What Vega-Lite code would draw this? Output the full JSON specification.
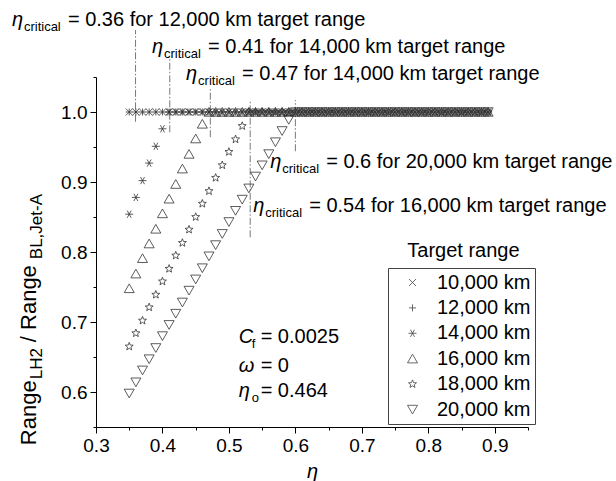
{
"$schema": "https://vega.github.io/schema/vega-lite/v6.json",
"width": 432, "height": 350,
"autosize": "none",
"padding": {"left": 96, "top": 77, "right": 88, "bottom": 54},
"background": "white",
"config": {"view": {"stroke": null}, "font": "Liberation Sans", "text": {"font": "Liberation Sans", "color": "black"}},
"datasets": {
"pts": [
{"s":"10,000 km","e":0.35,"r":1},{"s":"10,000 km","e":0.36,"r":1},{"s":"10,000 km","e":0.37,"r":1},{"s":"10,000 km","e":0.38,"r":1},{"s":"10,000 km","e":0.39,"r":1},{"s":"10,000 km","e":0.40,"r":1},{"s":"10,000 km","e":0.41,"r":1},{"s":"10,000 km","e":0.42,"r":1},{"s":"10,000 km","e":0.43,"r":1},{"s":"10,000 km","e":0.44,"r":1},{"s":"10,000 km","e":0.45,"r":1},{"s":"10,000 km","e":0.46,"r":1},{"s":"10,000 km","e":0.47,"r":1},{"s":"10,000 km","e":0.48,"r":1},{"s":"10,000 km","e":0.49,"r":1},{"s":"10,000 km","e":0.50,"r":1},{"s":"10,000 km","e":0.51,"r":1},{"s":"10,000 km","e":0.52,"r":1},{"s":"10,000 km","e":0.53,"r":1},{"s":"10,000 km","e":0.54,"r":1},{"s":"10,000 km","e":0.55,"r":1},{"s":"10,000 km","e":0.56,"r":1},{"s":"10,000 km","e":0.57,"r":1},{"s":"10,000 km","e":0.58,"r":1},{"s":"10,000 km","e":0.59,"r":1},{"s":"10,000 km","e":0.60,"r":1},{"s":"10,000 km","e":0.61,"r":1},{"s":"10,000 km","e":0.62,"r":1},{"s":"10,000 km","e":0.63,"r":1},{"s":"10,000 km","e":0.64,"r":1},{"s":"10,000 km","e":0.65,"r":1},{"s":"10,000 km","e":0.66,"r":1},{"s":"10,000 km","e":0.67,"r":1},{"s":"10,000 km","e":0.68,"r":1},{"s":"10,000 km","e":0.69,"r":1},{"s":"10,000 km","e":0.70,"r":1},{"s":"10,000 km","e":0.71,"r":1},{"s":"10,000 km","e":0.72,"r":1},{"s":"10,000 km","e":0.73,"r":1},{"s":"10,000 km","e":0.74,"r":1},{"s":"10,000 km","e":0.75,"r":1},{"s":"10,000 km","e":0.76,"r":1},{"s":"10,000 km","e":0.77,"r":1},{"s":"10,000 km","e":0.78,"r":1},{"s":"10,000 km","e":0.79,"r":1},{"s":"10,000 km","e":0.80,"r":1},{"s":"10,000 km","e":0.81,"r":1},{"s":"10,000 km","e":0.82,"r":1},{"s":"10,000 km","e":0.83,"r":1},{"s":"10,000 km","e":0.84,"r":1},{"s":"10,000 km","e":0.85,"r":1},{"s":"10,000 km","e":0.86,"r":1},{"s":"10,000 km","e":0.87,"r":1},{"s":"10,000 km","e":0.88,"r":1},{"s":"10,000 km","e":0.89,"r":1},
{"s":"12,000 km","e":0.35,"r":1},{"s":"12,000 km","e":0.36,"r":1},{"s":"12,000 km","e":0.37,"r":1},{"s":"12,000 km","e":0.38,"r":1},{"s":"12,000 km","e":0.39,"r":1},{"s":"12,000 km","e":0.40,"r":1},{"s":"12,000 km","e":0.41,"r":1},{"s":"12,000 km","e":0.42,"r":1},{"s":"12,000 km","e":0.43,"r":1},{"s":"12,000 km","e":0.44,"r":1},{"s":"12,000 km","e":0.45,"r":1},{"s":"12,000 km","e":0.46,"r":1},{"s":"12,000 km","e":0.47,"r":1},{"s":"12,000 km","e":0.48,"r":1},{"s":"12,000 km","e":0.49,"r":1},{"s":"12,000 km","e":0.50,"r":1},{"s":"12,000 km","e":0.51,"r":1},{"s":"12,000 km","e":0.52,"r":1},{"s":"12,000 km","e":0.53,"r":1},{"s":"12,000 km","e":0.54,"r":1},{"s":"12,000 km","e":0.55,"r":1},{"s":"12,000 km","e":0.56,"r":1},{"s":"12,000 km","e":0.57,"r":1},{"s":"12,000 km","e":0.58,"r":1},{"s":"12,000 km","e":0.59,"r":1},{"s":"12,000 km","e":0.60,"r":1},{"s":"12,000 km","e":0.61,"r":1},{"s":"12,000 km","e":0.62,"r":1},{"s":"12,000 km","e":0.63,"r":1},{"s":"12,000 km","e":0.64,"r":1},{"s":"12,000 km","e":0.65,"r":1},{"s":"12,000 km","e":0.66,"r":1},{"s":"12,000 km","e":0.67,"r":1},{"s":"12,000 km","e":0.68,"r":1},{"s":"12,000 km","e":0.69,"r":1},{"s":"12,000 km","e":0.70,"r":1},{"s":"12,000 km","e":0.71,"r":1},{"s":"12,000 km","e":0.72,"r":1},{"s":"12,000 km","e":0.73,"r":1},{"s":"12,000 km","e":0.74,"r":1},{"s":"12,000 km","e":0.75,"r":1},{"s":"12,000 km","e":0.76,"r":1},{"s":"12,000 km","e":0.77,"r":1},{"s":"12,000 km","e":0.78,"r":1},{"s":"12,000 km","e":0.79,"r":1},{"s":"12,000 km","e":0.80,"r":1},{"s":"12,000 km","e":0.81,"r":1},{"s":"12,000 km","e":0.82,"r":1},{"s":"12,000 km","e":0.83,"r":1},{"s":"12,000 km","e":0.84,"r":1},{"s":"12,000 km","e":0.85,"r":1},{"s":"12,000 km","e":0.86,"r":1},{"s":"12,000 km","e":0.87,"r":1},{"s":"12,000 km","e":0.88,"r":1},{"s":"12,000 km","e":0.89,"r":1},
{"s":"14,000 km","e":0.35,"r":0.854},{"s":"14,000 km","e":0.36,"r":0.878},{"s":"14,000 km","e":0.37,"r":0.902},{"s":"14,000 km","e":0.38,"r":0.927},{"s":"14,000 km","e":0.39,"r":0.951},{"s":"14,000 km","e":0.40,"r":0.976},{"s":"14,000 km","e":0.41,"r":1},{"s":"14,000 km","e":0.42,"r":1},{"s":"14,000 km","e":0.43,"r":1},{"s":"14,000 km","e":0.44,"r":1},{"s":"14,000 km","e":0.45,"r":1},{"s":"14,000 km","e":0.46,"r":1},{"s":"14,000 km","e":0.47,"r":1},{"s":"14,000 km","e":0.48,"r":1},{"s":"14,000 km","e":0.49,"r":1},{"s":"14,000 km","e":0.50,"r":1},{"s":"14,000 km","e":0.51,"r":1},{"s":"14,000 km","e":0.52,"r":1},{"s":"14,000 km","e":0.53,"r":1},{"s":"14,000 km","e":0.54,"r":1},{"s":"14,000 km","e":0.55,"r":1},{"s":"14,000 km","e":0.56,"r":1},{"s":"14,000 km","e":0.57,"r":1},{"s":"14,000 km","e":0.58,"r":1},{"s":"14,000 km","e":0.59,"r":1},{"s":"14,000 km","e":0.60,"r":1},{"s":"14,000 km","e":0.61,"r":1},{"s":"14,000 km","e":0.62,"r":1},{"s":"14,000 km","e":0.63,"r":1},{"s":"14,000 km","e":0.64,"r":1},{"s":"14,000 km","e":0.65,"r":1},{"s":"14,000 km","e":0.66,"r":1},{"s":"14,000 km","e":0.67,"r":1},{"s":"14,000 km","e":0.68,"r":1},{"s":"14,000 km","e":0.69,"r":1},{"s":"14,000 km","e":0.70,"r":1},{"s":"14,000 km","e":0.71,"r":1},{"s":"14,000 km","e":0.72,"r":1},{"s":"14,000 km","e":0.73,"r":1},{"s":"14,000 km","e":0.74,"r":1},{"s":"14,000 km","e":0.75,"r":1},{"s":"14,000 km","e":0.76,"r":1},{"s":"14,000 km","e":0.77,"r":1},{"s":"14,000 km","e":0.78,"r":1},{"s":"14,000 km","e":0.79,"r":1},{"s":"14,000 km","e":0.80,"r":1},{"s":"14,000 km","e":0.81,"r":1},{"s":"14,000 km","e":0.82,"r":1},{"s":"14,000 km","e":0.83,"r":1},{"s":"14,000 km","e":0.84,"r":1},{"s":"14,000 km","e":0.85,"r":1},{"s":"14,000 km","e":0.86,"r":1},{"s":"14,000 km","e":0.87,"r":1},{"s":"14,000 km","e":0.88,"r":1},{"s":"14,000 km","e":0.89,"r":1},
{"s":"16,000 km","e":0.35,"r":0.748},{"s":"16,000 km","e":0.36,"r":0.769},{"s":"16,000 km","e":0.37,"r":0.791},{"s":"16,000 km","e":0.38,"r":0.812},{"s":"16,000 km","e":0.39,"r":0.833},{"s":"16,000 km","e":0.40,"r":0.855},{"s":"16,000 km","e":0.41,"r":0.876},{"s":"16,000 km","e":0.42,"r":0.897},{"s":"16,000 km","e":0.43,"r":0.919},{"s":"16,000 km","e":0.44,"r":0.940},{"s":"16,000 km","e":0.45,"r":0.962},{"s":"16,000 km","e":0.46,"r":0.983},{"s":"16,000 km","e":0.47,"r":1},{"s":"16,000 km","e":0.48,"r":1},{"s":"16,000 km","e":0.49,"r":1},{"s":"16,000 km","e":0.50,"r":1},{"s":"16,000 km","e":0.51,"r":1},{"s":"16,000 km","e":0.52,"r":1},{"s":"16,000 km","e":0.53,"r":1},{"s":"16,000 km","e":0.54,"r":1},{"s":"16,000 km","e":0.55,"r":1},{"s":"16,000 km","e":0.56,"r":1},{"s":"16,000 km","e":0.57,"r":1},{"s":"16,000 km","e":0.58,"r":1},{"s":"16,000 km","e":0.59,"r":1},{"s":"16,000 km","e":0.60,"r":1},{"s":"16,000 km","e":0.61,"r":1},{"s":"16,000 km","e":0.62,"r":1},{"s":"16,000 km","e":0.63,"r":1},{"s":"16,000 km","e":0.64,"r":1},{"s":"16,000 km","e":0.65,"r":1},{"s":"16,000 km","e":0.66,"r":1},{"s":"16,000 km","e":0.67,"r":1},{"s":"16,000 km","e":0.68,"r":1},{"s":"16,000 km","e":0.69,"r":1},{"s":"16,000 km","e":0.70,"r":1},{"s":"16,000 km","e":0.71,"r":1},{"s":"16,000 km","e":0.72,"r":1},{"s":"16,000 km","e":0.73,"r":1},{"s":"16,000 km","e":0.74,"r":1},{"s":"16,000 km","e":0.75,"r":1},{"s":"16,000 km","e":0.76,"r":1},{"s":"16,000 km","e":0.77,"r":1},{"s":"16,000 km","e":0.78,"r":1},{"s":"16,000 km","e":0.79,"r":1},{"s":"16,000 km","e":0.80,"r":1},{"s":"16,000 km","e":0.81,"r":1},{"s":"16,000 km","e":0.82,"r":1},{"s":"16,000 km","e":0.83,"r":1},{"s":"16,000 km","e":0.84,"r":1},{"s":"16,000 km","e":0.85,"r":1},{"s":"16,000 km","e":0.86,"r":1},{"s":"16,000 km","e":0.87,"r":1},{"s":"16,000 km","e":0.88,"r":1},{"s":"16,000 km","e":0.89,"r":1},
{"s":"18,000 km","e":0.35,"r":0.665},{"s":"18,000 km","e":0.36,"r":0.684},{"s":"18,000 km","e":0.37,"r":0.702},{"s":"18,000 km","e":0.38,"r":0.721},{"s":"18,000 km","e":0.39,"r":0.739},{"s":"18,000 km","e":0.40,"r":0.758},{"s":"18,000 km","e":0.41,"r":0.776},{"s":"18,000 km","e":0.42,"r":0.795},{"s":"18,000 km","e":0.43,"r":0.813},{"s":"18,000 km","e":0.44,"r":0.832},{"s":"18,000 km","e":0.45,"r":0.850},{"s":"18,000 km","e":0.46,"r":0.869},{"s":"18,000 km","e":0.47,"r":0.887},{"s":"18,000 km","e":0.48,"r":0.906},{"s":"18,000 km","e":0.49,"r":0.924},{"s":"18,000 km","e":0.50,"r":0.943},{"s":"18,000 km","e":0.51,"r":0.961},{"s":"18,000 km","e":0.52,"r":0.980},{"s":"18,000 km","e":0.53,"r":1},{"s":"18,000 km","e":0.54,"r":1},{"s":"18,000 km","e":0.55,"r":1},{"s":"18,000 km","e":0.56,"r":1},{"s":"18,000 km","e":0.57,"r":1},{"s":"18,000 km","e":0.58,"r":1},{"s":"18,000 km","e":0.59,"r":1},{"s":"18,000 km","e":0.60,"r":1},{"s":"18,000 km","e":0.61,"r":1},{"s":"18,000 km","e":0.62,"r":1},{"s":"18,000 km","e":0.63,"r":1},{"s":"18,000 km","e":0.64,"r":1},{"s":"18,000 km","e":0.65,"r":1},{"s":"18,000 km","e":0.66,"r":1},{"s":"18,000 km","e":0.67,"r":1},{"s":"18,000 km","e":0.68,"r":1},{"s":"18,000 km","e":0.69,"r":1},{"s":"18,000 km","e":0.70,"r":1},{"s":"18,000 km","e":0.71,"r":1},{"s":"18,000 km","e":0.72,"r":1},{"s":"18,000 km","e":0.73,"r":1},{"s":"18,000 km","e":0.74,"r":1},{"s":"18,000 km","e":0.75,"r":1},{"s":"18,000 km","e":0.76,"r":1},{"s":"18,000 km","e":0.77,"r":1},{"s":"18,000 km","e":0.78,"r":1},{"s":"18,000 km","e":0.79,"r":1},{"s":"18,000 km","e":0.80,"r":1},{"s":"18,000 km","e":0.81,"r":1},{"s":"18,000 km","e":0.82,"r":1},{"s":"18,000 km","e":0.83,"r":1},{"s":"18,000 km","e":0.84,"r":1},{"s":"18,000 km","e":0.85,"r":1},{"s":"18,000 km","e":0.86,"r":1},{"s":"18,000 km","e":0.87,"r":1},{"s":"18,000 km","e":0.88,"r":1},{"s":"18,000 km","e":0.89,"r":1},
{"s":"20,000 km","e":0.35,"r":0.598},{"s":"20,000 km","e":0.36,"r":0.614},{"s":"20,000 km","e":0.37,"r":0.631},{"s":"20,000 km","e":0.38,"r":0.647},{"s":"20,000 km","e":0.39,"r":0.663},{"s":"20,000 km","e":0.40,"r":0.680},{"s":"20,000 km","e":0.41,"r":0.696},{"s":"20,000 km","e":0.42,"r":0.712},{"s":"20,000 km","e":0.43,"r":0.728},{"s":"20,000 km","e":0.44,"r":0.745},{"s":"20,000 km","e":0.45,"r":0.761},{"s":"20,000 km","e":0.46,"r":0.777},{"s":"20,000 km","e":0.47,"r":0.794},{"s":"20,000 km","e":0.48,"r":0.810},{"s":"20,000 km","e":0.49,"r":0.826},{"s":"20,000 km","e":0.50,"r":0.843},{"s":"20,000 km","e":0.51,"r":0.859},{"s":"20,000 km","e":0.52,"r":0.875},{"s":"20,000 km","e":0.53,"r":0.891},{"s":"20,000 km","e":0.54,"r":0.908},{"s":"20,000 km","e":0.55,"r":0.924},{"s":"20,000 km","e":0.56,"r":0.940},{"s":"20,000 km","e":0.57,"r":0.957},{"s":"20,000 km","e":0.58,"r":0.973},{"s":"20,000 km","e":0.59,"r":0.989},{"s":"20,000 km","e":0.60,"r":1},{"s":"20,000 km","e":0.61,"r":1},{"s":"20,000 km","e":0.62,"r":1},{"s":"20,000 km","e":0.63,"r":1},{"s":"20,000 km","e":0.64,"r":1},{"s":"20,000 km","e":0.65,"r":1},{"s":"20,000 km","e":0.66,"r":1},{"s":"20,000 km","e":0.67,"r":1},{"s":"20,000 km","e":0.68,"r":1},{"s":"20,000 km","e":0.69,"r":1},{"s":"20,000 km","e":0.70,"r":1},{"s":"20,000 km","e":0.71,"r":1},{"s":"20,000 km","e":0.72,"r":1},{"s":"20,000 km","e":0.73,"r":1},{"s":"20,000 km","e":0.74,"r":1},{"s":"20,000 km","e":0.75,"r":1},{"s":"20,000 km","e":0.76,"r":1},{"s":"20,000 km","e":0.77,"r":1},{"s":"20,000 km","e":0.78,"r":1},{"s":"20,000 km","e":0.79,"r":1},{"s":"20,000 km","e":0.80,"r":1},{"s":"20,000 km","e":0.81,"r":1},{"s":"20,000 km","e":0.82,"r":1},{"s":"20,000 km","e":0.83,"r":1},{"s":"20,000 km","e":0.84,"r":1},{"s":"20,000 km","e":0.85,"r":1},{"s":"20,000 km","e":0.86,"r":1},{"s":"20,000 km","e":0.87,"r":1},{"s":"20,000 km","e":0.88,"r":1},{"s":"20,000 km","e":0.89,"r":1}
],
"ann": [
{"ax":0.1735,"ay":1.1229,"t":"= 0.36 for 12,000 km target range"},
{"ax":0.3843,"ay":1.0843,"t":"= 0.41 for 14,000 km target range"},
{"ax":0.4356,"ay":1.0457,"t":"= 0.47 for 14,000 km target range"},
{"ax":0.5621,"ay":0.92,"t":"= 0.6 for 20,000 km target range"},
{"ax":0.5365,"ay":0.8571,"t":"= 0.54 for 16,000 km target range"}
],
"rules": [
{"e":0.3595,"y1":0.986,"y2":1.117},
{"e":0.411,"y1":0.971,"y2":1.077},
{"e":0.472,"y1":0.964,"y2":1.034},
{"e":0.532,"y1":0.821,"y2":1.017},
{"e":0.6,"y1":0.944,"y2":1.017}
],
"stats": [
{"x":0.5146,"y":0.67,"sym":"C","sub":"f","t":"= 0.0025"},
{"x":0.5146,"y":0.6286,"sym":"ω","sub":"","t":"= 0"},
{"x":0.5146,"y":0.5929,"sym":"η","sub":"o","t":"= 0.464"}
]
},
"encoding": {
  "x": {"type": "quantitative", "scale": {"domain": [0.3, 0.95], "nice": false, "zero": false},
   "axis": {"values": [0.3,0.35,0.4,0.45,0.5,0.55,0.6,0.65,0.7,0.75,0.8,0.85,0.9,0.95],
    "labelExpr": "abs(datum.value*10 - round(datum.value*10)) < 0.01 ? format(datum.value, '.1f') : ''",
    "tickSize": {"condition": {"test": "abs(datum.value*10 - round(datum.value*10)) > 0.01", "value": 3}, "value": 6},
    "title": "η", "titleFontStyle": "italic", "titleFontWeight": "normal", "titleFontSize": 20, "titleFont": "Liberation Sans", "titleColor": "black", "titlePadding": 6,
    "labelFontSize": 19, "labelFont": "Liberation Sans", "labelColor": "black", "labelPadding": 3, "labelFlush": false, "labelOverlap": false,
    "grid": false, "domainColor": "black", "tickColor": "black", "domainWidth": 1, "tickWidth": 1}},
  "y": {"type": "quantitative", "scale": {"domain": [0.55, 1.05], "nice": false, "zero": false},
   "axis": {"values": [0.55,0.6,0.65,0.7,0.75,0.8,0.85,0.9,0.95,1.0,1.05],
    "labelExpr": "abs(datum.value*10 - round(datum.value*10)) < 0.01 ? format(datum.value, '.1f') : ''",
    "tickSize": {"condition": {"test": "abs(datum.value*10 - round(datum.value*10)) > 0.01", "value": 3}, "value": 6},
    "title": null, "orient": "left", "domain": true, "labels": true, "ticks": true,
    "labelFontSize": 19, "labelFont": "Liberation Sans", "labelColor": "black", "labelPadding": 3, "labelFlush": false, "labelOverlap": false,
    "grid": false, "domainColor": "black", "tickColor": "black", "domainWidth": 1, "tickWidth": 1}}
},
"layer": [
{"data": {"name": "rules"},
 "mark": {"type": "rule", "color": "#555", "strokeWidth": 0.8, "strokeDash": [7, 2, 1.5, 2]},
 "encoding": {
  "x": {"field": "e", "type": "quantitative"},
  "y": {"field": "y1", "type": "quantitative"},
  "y2": {"field": "y2"}
 }},
{"data": {"name": "pts"},
 "mark": {"type": "point", "filled": false, "size": 400, "strokeWidth": 0.8, "color": "#333", "opacity": 1},
 "encoding": {
  "x": {"field": "e", "type": "quantitative"},
  "y": {"field": "r", "type": "quantitative"},
  "shape": {"field": "s", "type": "nominal",
   "scale": {"domain": ["10,000 km","12,000 km","14,000 km","16,000 km","18,000 km","20,000 km"],
    "range": ["M-0.35,-0.35L0.35,0.35M-0.35,0.35L0.35,-0.35",
     "M-0.35,0H0.35M0,-0.35V0.35",
     "M-0.4,0H0.4M-0.2,-0.36L0.2,0.36M-0.2,0.36L0.2,-0.36",
     "M0,-0.45L0.5,0.42L-0.5,0.42Z",
     "M0,-0.42L0.106,-0.146L0.4,-0.13L0.171,0.056L0.247,0.34L0,0.18L-0.247,0.34L-0.171,0.056L-0.4,-0.13L-0.106,-0.146Z",
     "M0,0.45L0.5,-0.42L-0.5,-0.42Z"]},
   "legend": {"orient": "none", "legendX": 292, "legendY": 191, "title": null,
    "labelFontSize": 20, "labelFont": "Liberation Sans", "labelColor": "black", "labelLimit": 300,
    "symbolSize": 400, "symbolStrokeWidth": 0.8, "symbolStrokeColor": "#444", "symbolFillColor": "transparent",
    "strokeColor": "#444", "fillColor": "white", "padding": 4, "rowPadding": 4.4, "symbolOffset": 10, "labelOffset": 14}}
 }},
{"data": {"name": "ann"},
 "mark": {"type": "text", "align": "left", "baseline": "alphabetic", "fontSize": 20, "fontStyle": "italic", "text": "η"},
 "encoding": {"x": {"field": "ax", "type": "quantitative"}, "y": {"field": "ay", "type": "quantitative"}}},
{"data": {"name": "ann"},
 "mark": {"type": "text", "align": "left", "baseline": "alphabetic", "fontSize": 13, "dx": 12, "dy": 5, "text": "critical"},
 "encoding": {"x": {"field": "ax", "type": "quantitative"}, "y": {"field": "ay", "type": "quantitative"}}},
{"data": {"name": "ann"},
 "mark": {"type": "text", "align": "left", "baseline": "alphabetic", "fontSize": 20, "dx": 56},
 "encoding": {"x": {"field": "ax", "type": "quantitative"}, "y": {"field": "ay", "type": "quantitative"}, "text": {"field": "t"}}},
{"data": {"name": "stats"},
 "mark": {"type": "text", "align": "left", "baseline": "alphabetic", "fontSize": 20, "fontStyle": "italic"},
 "encoding": {"x": {"field": "x", "type": "quantitative"}, "y": {"field": "y", "type": "quantitative"}, "text": {"field": "sym"}}},
{"data": {"name": "stats"},
 "mark": {"type": "text", "align": "left", "baseline": "alphabetic", "fontSize": 13, "dx": 13, "dy": 5},
 "encoding": {"x": {"field": "x", "type": "quantitative"}, "y": {"field": "y", "type": "quantitative"}, "text": {"field": "sub"}}},
{"data": {"name": "stats"},
 "mark": {"type": "text", "align": "left", "baseline": "alphabetic", "fontSize": 20, "dx": 22},
 "encoding": {"x": {"field": "x", "type": "quantitative"}, "y": {"field": "y", "type": "quantitative"}, "text": {"field": "t"}}},
{"data": {"values": [{}]},
 "mark": {"type": "text", "align": "left", "baseline": "alphabetic", "fontSize": 20, "text": "Target range"},
 "encoding": {"x": {"datum": 0.7684}, "y": {"datum": 0.7929}}},
{"data": {"values": [{}]},
 "mark": {"type": "text", "align": "left", "baseline": "alphabetic", "fontSize": 22, "angle": 270, "dx": 0, "dy": -60, "text": "Range"},
 "encoding": {"x": {"datum": 0.3}, "y": {"datum": 0.524}}},
{"data": {"values": [{}]},
 "mark": {"type": "text", "align": "left", "baseline": "alphabetic", "fontSize": 17, "angle": 270, "dx": 66, "dy": -54, "text": "LH2"},
 "encoding": {"x": {"datum": 0.3}, "y": {"datum": 0.524}}},
{"data": {"values": [{}]},
 "mark": {"type": "text", "align": "left", "baseline": "alphabetic", "fontSize": 22, "angle": 270, "dx": 103, "dy": -60, "text": "/ Range"},
 "encoding": {"x": {"datum": 0.3}, "y": {"datum": 0.524}}},
{"data": {"values": [{}]},
 "mark": {"type": "text", "align": "left", "baseline": "alphabetic", "fontSize": 17, "angle": 270, "dx": 186, "dy": -54, "text": "BL,Jet-A"},
 "encoding": {"x": {"datum": 0.3}, "y": {"datum": 0.524}}}
]
}
